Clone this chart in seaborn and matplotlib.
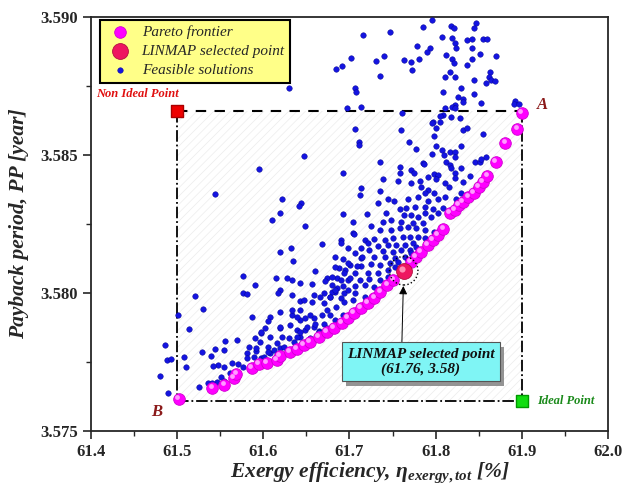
import numpy as np
import pandas as pd
import seaborn as sns
import matplotlib
matplotlib.use("Agg")
import matplotlib.pyplot as plt
import matplotlib.patheffects as pe
import matplotlib.transforms as mtransforms
from matplotlib.patches import Rectangle
from matplotlib.ticker import MultipleLocator

# feasible solutions
feas_x = [61.684, 61.630, 61.647, 61.595, 61.544, 61.622, 61.644, 61.642, 61.619, 61.610, 61.649, 61.668, 61.632, 61.619,
          61.796, 61.785, 61.818, 61.821, 61.847, 61.844, 61.747, 61.716, 61.807, 61.819, 61.836, 61.842, 61.855, 61.860,
          61.823, 61.778, 61.793, 61.824, 61.842, 61.790, 61.812, 61.851, 61.870, 61.702, 61.740, 61.731, 61.763, 61.781,
          61.771, 61.819, 61.821, 61.842, 61.691, 61.773, 61.836, 61.817, 61.863, 61.736, 61.811, 61.822, 61.862, 61.844,
          61.864, 61.869, 61.858, 61.706, 61.708, 61.830, 61.808, 61.845, 61.826, 61.832, 61.832, 61.822, 61.819, 61.853,
          61.892, 61.891, 61.897, 61.697, 61.713, 61.811, 61.823, 61.761, 61.809, 61.805, 61.818, 61.828, 61.797, 61.796,
          61.805, 61.706, 61.760, 61.800, 61.832, 61.836, 61.855, 61.798, 61.711, 61.711, 61.769, 61.800, 61.830, 61.777,
          61.807, 61.817, 61.822, 61.810, 61.823, 61.796, 61.736, 61.785, 61.812, 61.846, 61.851, 61.858, 61.853,
          61.759, 61.759, 61.771, 61.775, 61.787, 61.798, 61.803, 61.817, 61.818, 61.822, 61.829, 61.693, 61.713, 61.712,
          61.739, 61.735, 61.756, 61.771, 61.782, 61.791, 61.800, 61.783, 61.791, 61.798, 61.788, 61.811, 61.815, 61.823,
          61.832, 61.840, 61.829, 61.835, 61.824, 61.811, 61.803, 61.791, 61.780, 61.768, 61.745, 61.752, 61.733, 61.692,
          61.720, 61.742, 61.759, 61.766, 61.776, 61.788, 61.797, 61.809, 61.763, 61.771, 61.780, 61.788, 61.795, 61.803,
          61.748, 61.760, 61.774, 61.785, 61.704, 61.739, 61.725, 61.736, 61.748, 61.759, 61.768, 61.777, 61.788, 61.798,
          61.704, 61.690, 61.718, 61.729, 61.741, 61.750, 61.762, 61.770, 61.780, 61.788, 61.733, 61.745, 61.754, 61.764,
          61.774, 61.713, 61.723, 61.739, 61.750, 61.760, 61.770, 61.777, 61.698, 61.706, 61.683, 61.692, 61.713, 61.729,
          61.741, 61.753, 61.764, 61.771, 61.701, 61.713, 61.725, 61.736, 61.747, 61.756, 61.768, 61.688, 61.695, 61.707,
          61.721, 61.733, 61.745, 61.753, 61.674, 61.686, 61.698, 61.712, 61.723, 61.735, 61.745, 61.680, 61.692, 61.706,
          61.718, 61.729, 61.683, 61.694, 61.707, 61.718, 61.678, 61.690,
          61.705, 61.690, 61.722, 61.635, 61.615, 61.628, 61.633, 61.660, 61.683, 61.698, 61.709, 61.715, 61.590, 61.619,
          61.617, 61.643, 61.657, 61.672, 61.680, 61.690, 61.694, 61.701, 61.633, 61.643, 61.659, 61.671, 61.680, 61.686,
          61.698, 61.587, 61.608, 61.606, 61.619, 61.633, 61.643, 61.649, 61.659, 61.668, 61.631, 61.639, 61.649, 61.659,
          61.671, 61.683, 61.692, 61.674, 61.684, 61.694, 61.704, 61.598, 61.608, 61.596, 61.616, 61.630, 61.643, 61.665,
          61.584, 61.592, 61.606, 61.619, 61.581, 61.589, 61.598, 61.608,
          61.501, 61.521, 61.530, 61.514, 61.486, 61.488, 61.493, 61.508, 61.511, 61.480, 61.489, 61.576, 61.576, 61.581,
          61.556, 61.570, 61.544, 61.555, 61.529, 61.540, 61.548, 61.542, 61.555, 61.564, 61.561, 61.571, 61.581, 61.576,
          61.551, 61.546, 61.541, 61.526, 61.536, 61.554, 61.566, 61.591, 61.598, 61.606, 61.612, 61.624, 61.630, 61.601,
          61.616, 61.636, 61.639, 61.643, 61.651, 61.660, 61.678, 61.654, 61.622, 61.592, 61.602, 61.619, 61.619, 61.633,
          61.643, 61.647, 61.657, 61.671, 61.666, 61.677, 61.683, 61.639, 61.654, 61.665, 61.674]
feas_y = [3.58811, 3.58742, 3.58496, 3.58449, 3.58358, 3.58340, 3.58326, 3.58315, 3.58290, 3.58264, 3.58243, 3.58177, 3.58163, 3.58148,
          3.58988, 3.58963, 3.58967, 3.58959, 3.58977, 3.58959, 3.58945, 3.58934, 3.58927, 3.58923, 3.58916, 3.58920, 3.58920, 3.58920,
          3.58905, 3.58894, 3.58887, 3.58887, 3.58887, 3.58872, 3.58862, 3.58866, 3.58858, 3.58851, 3.58858, 3.58840, 3.58843, 3.58847,
          3.58836, 3.58847, 3.58833, 3.58847, 3.58822, 3.58807, 3.58825, 3.58800, 3.58800, 3.58786, 3.58782, 3.58782, 3.58782, 3.58771,
          3.58771, 3.58767, 3.58760, 3.58742, 3.58728, 3.58742, 3.58728, 3.58720, 3.58710, 3.58702, 3.58691, 3.58681, 3.58673, 3.58688,
          3.58695, 3.58684, 3.58684, 3.58670, 3.58673, 3.58670, 3.58670, 3.58652, 3.58644, 3.58641, 3.58637, 3.58634, 3.58619, 3.58616,
          3.58619, 3.58594, 3.58590, 3.58598, 3.58590, 3.58598, 3.58576, 3.58568, 3.58547, 3.58536, 3.58547, 3.58532, 3.58532, 3.58521,
          3.58518, 3.58510, 3.58510, 3.58500, 3.58492, 3.58503, 3.58474, 3.58471, 3.58474, 3.58474, 3.58474, 3.58492, 3.58485,
          3.58456, 3.58434, 3.58445, 3.58434, 3.58467, 3.58431, 3.58427, 3.58463, 3.58452, 3.58434, 3.58452, 3.58434, 3.58380, 3.58355,
          3.58413, 3.58369, 3.58405, 3.58398, 3.58405, 3.58420, 3.58413, 3.58384, 3.58373, 3.58362, 3.58362, 3.58398, 3.58384, 3.58416,
          3.58402, 3.58424, 3.58362, 3.58355, 3.58340, 3.58348, 3.58340, 3.58333, 3.58348, 3.58340, 3.58340, 3.58333, 3.58326, 3.58286,
          3.58286, 3.58290, 3.58304, 3.58308, 3.58312, 3.58312, 3.58304, 3.58308, 3.58282, 3.58282, 3.58275, 3.58290, 3.58275, 3.58290,
          3.58264, 3.58257, 3.58254, 3.58254, 3.58257, 3.58257, 3.58243, 3.58228, 3.58228, 3.58235, 3.58239, 3.58235, 3.58228, 3.58221,
          3.58217, 3.58192, 3.58192, 3.58196, 3.58192, 3.58199, 3.58203, 3.58203, 3.58203, 3.58199, 3.58170, 3.58174, 3.58174, 3.58174,
          3.58181, 3.58163, 3.58156, 3.58152, 3.58148, 3.58156, 3.58156, 3.58167, 3.58163, 3.58145, 3.58130, 3.58123, 3.58127, 3.58130,
          3.58130, 3.58127, 3.58130, 3.58145, 3.58101, 3.58098, 3.58105, 3.58101, 3.58109, 3.58112, 3.58120, 3.58090, 3.58083, 3.58072,
          3.58072, 3.58072, 3.58083, 3.58094, 3.58054, 3.58054, 3.58047, 3.58047, 3.58051, 3.58047, 3.58058, 3.58029, 3.58025, 3.58025,
          3.58029, 3.58022, 3.58004, 3.58000, 3.58000, 3.57986, 3.57986, 3.57982,
          3.58214, 3.58181, 3.58181, 3.58116, 3.58054, 3.58054, 3.58047, 3.58080, 3.58094, 3.58109, 3.58098, 3.58130, 3.58029, 3.58011,
          3.58000, 3.58036, 3.58033, 3.58043, 3.58058, 3.58047, 3.58072, 3.58054, 3.57993, 3.57971, 3.57993, 3.58000, 3.58004, 3.58018,
          3.58011, 3.57913, 3.57913, 3.57899, 3.57873, 3.57920, 3.57902, 3.57909, 3.57909, 3.57920, 3.57884, 3.57866, 3.57866, 3.57877,
          3.57888, 3.57902, 3.57920, 3.57938, 3.57949, 3.57967, 3.57975, 3.57855, 3.57841, 3.57823, 3.57819, 3.57837, 3.57841, 3.57862,
          3.57804, 3.57790, 3.57804, 3.57801, 3.57783, 3.57768, 3.57764, 3.57782,
          3.57920, 3.57989, 3.57942, 3.57870, 3.57812, 3.57757, 3.57761, 3.57768, 3.57732, 3.57700, 3.57638, 3.58062, 3.58000, 3.57996,
          3.57826, 3.57830, 3.57797, 3.57794, 3.57786, 3.57772, 3.57739, 3.57736, 3.57732, 3.57746, 3.57710, 3.57743, 3.57765, 3.57732,
          3.57696, 3.57678, 3.57674, 3.57660, 3.57674, 3.57681, 3.57710, 3.57837, 3.57859, 3.57786, 3.57794, 3.57804, 3.57794, 3.57768,
          3.57775, 3.57823, 3.57841, 3.57859, 3.57877, 3.57888, 3.57920, 3.57920, 3.57841, 3.57801, 3.57873, 3.57877, 3.57931, 3.57938,
          3.57938, 3.57975, 3.57967, 3.57964, 3.57986, 3.57986, 3.58011, 3.57913, 3.57837, 3.57859, 3.57873]

# Pareto frontier
pareto_x = [61.502, 61.541, 61.555, 61.566, 61.569, 61.587, 61.595, 61.604, 61.616, 61.619, 61.631, 61.639, 61.647, 61.654,
            61.665, 61.674, 61.682, 61.691, 61.698, 61.705, 61.713, 61.721, 61.729, 61.736, 61.744, 61.751, 61.763, 61.771,
            61.777, 61.783, 61.791, 61.797, 61.803, 61.809, 61.817, 61.822, 61.827, 61.832, 61.838, 61.844, 61.850, 61.855,
            61.860, 61.870, 61.881, 61.895, 61.900]
pareto_y = [3.57616, 3.57656, 3.57667, 3.57692, 3.57707, 3.57728, 3.57743, 3.57746, 3.57757, 3.57772, 3.57786, 3.57797, 3.57812, 3.57822,
            3.57841, 3.57859, 3.57873, 3.57891, 3.57909, 3.57928, 3.57946, 3.57964, 3.57982, 3.58004, 3.58029, 3.58047, 3.58080, 3.58112,
            3.58130, 3.58149, 3.58174, 3.58192, 3.58210, 3.58232, 3.58290, 3.58301, 3.58319, 3.58330, 3.58348, 3.58362, 3.58384, 3.58402,
            3.58424, 3.58475, 3.58543, 3.58594, 3.58652]

linmap_x = [61.763]
linmap_y = [3.58080]

ideal = (61.9, 3.5761)
non_ideal = (61.5, 3.5866)

feas = pd.DataFrame({"x": feas_x, "y": feas_y})
pareto = pd.DataFrame({"x": pareto_x, "y": pareto_y})
linmap = pd.DataFrame({"x": linmap_x, "y": linmap_y})

sns.set_style("ticks")
plt.rcParams["font.family"] = ["Liberation Serif", "DejaVu Serif"]
plt.rcParams["mathtext.fontset"] = "custom"
plt.rcParams["mathtext.it"] = "Liberation Serif:italic:bold"
plt.rcParams["mathtext.rm"] = "Liberation Serif:bold"
plt.rcParams["hatch.linewidth"] = 0.5

fig = plt.figure(figsize=(6.22, 4.93), dpi=100)
ax = fig.add_axes([0.146, 0.126, 0.8315, 0.84])

# hatched region between ideal and non-ideal points
ax.add_patch(Rectangle((non_ideal[0], ideal[1]), ideal[0] - non_ideal[0], non_ideal[1] - ideal[1],
                       facecolor="none", edgecolor="#ececec", hatch="////", lw=0, zorder=0))

sns.scatterplot(data=feas, x="x", y="y", ax=ax, s=16, color="#1414e0", edgecolor="#00008b",
                linewidth=0.3, label="Feasible solutions", zorder=3)

# box lines
ax.plot([non_ideal[0], ideal[0]], [non_ideal[1], non_ideal[1]], color="k", ls=(0, (5, 4)), lw=1.5, zorder=2)
ax.plot([non_ideal[0], non_ideal[0]], [non_ideal[1], ideal[1]], color="k", ls="-.", lw=1.3, zorder=2)
ax.plot([non_ideal[0], ideal[0]], [ideal[1], ideal[1]], color="k", ls="-.", lw=1.3, zorder=2)
ax.plot([ideal[0], ideal[0]], [non_ideal[1], ideal[1]], color="k", ls="-.", lw=1.3, zorder=2)

# sphere look: a small highlight drawn slightly up-left of each marker
hl = mtransforms.offset_copy(ax.transData, fig=fig, x=-1.3, y=1.3, units="points")

sns.scatterplot(data=pareto, x="x", y="y", ax=ax, s=70, color="#ff00ff", edgecolor="#d000d0",
                linewidth=0.6, label="Pareto frontier", zorder=4)
ax.scatter(pareto_x, pareto_y, s=12, color="#ff9cff", lw=0, transform=hl, zorder=4)
sns.scatterplot(data=linmap, x="x", y="y", ax=ax, s=130, color="#ee1660", edgecolor="#b0103f",
                linewidth=0.6, label="LINMAP selected point", zorder=5)
ax.scatter(linmap_x, linmap_y, s=20, color="#ff8fb5", lw=0, transform=hl, zorder=5)
ax.scatter(linmap_x, linmap_y, s=420, facecolors="none", edgecolors="k", linestyles=":", linewidths=1.0, zorder=5)

ax.scatter([non_ideal[0]], [non_ideal[1]], marker="s", s=70, color="#ee0000", edgecolor="#aa0000", zorder=6)
ax.scatter([ideal[0]], [ideal[1]], marker="s", s=70, color="#11dd11", edgecolor="#009900", zorder=6)

ax.text(non_ideal[0] + 0.002, non_ideal[1] + 0.0004, "Non Ideal Point", color="#e01010", fontsize=9,
        fontweight="bold", fontstyle="italic", ha="right", va="bottom")
ax.text(ideal[0] + 0.018, ideal[1], "Ideal Point", color="#1a8a1a", fontsize=9,
        fontweight="bold", fontstyle="italic", ha="left", va="center")
ax.text(pareto_x[-1] + 0.018, pareto_y[-1] + 0.0003, "A", color="#8b1a1a", fontsize=12,
        fontweight="bold", fontstyle="italic", ha="left", va="center")
ax.text(pareto_x[0] - 0.032, pareto_y[0] - 0.0002, "B", color="#8b1a1a", fontsize=12,
        fontweight="bold", fontstyle="italic", ha="left", va="top")

ann = ax.annotate("LINMAP selected point\n(61.76, 3.58)", xy=(linmap_x[0], linmap_y[0]),
                  xytext=(61.783, 3.5775), ha="center", va="center", fontsize=11,
                  fontweight="bold", fontstyle="italic", color="#111111",
                  bbox=dict(boxstyle="square,pad=0.35", fc="#7ff5f5", ec="#555555", lw=0.8),
                  arrowprops=dict(arrowstyle="-|>", color="k", lw=0.7, relpos=(0.37, 1.0),
                                  shrinkA=0, shrinkB=11, mutation_scale=12),
                  zorder=7)
ann.get_bbox_patch().set_path_effects([pe.SimplePatchShadow(offset=(3, -3), shadow_rgbFace="#888888", alpha=0.9),
                                       pe.Normal()])

ax.set_xlim(61.4, 62.0)
ax.set_ylim(3.575, 3.590)
ax.xaxis.set_major_locator(MultipleLocator(0.1))
ax.xaxis.set_minor_locator(MultipleLocator(0.05))
ax.yaxis.set_major_locator(MultipleLocator(0.005))
ax.yaxis.set_minor_locator(MultipleLocator(0.0025))
ax.xaxis.set_major_formatter(matplotlib.ticker.FormatStrFormatter("%.1f"))
ax.yaxis.set_major_formatter(matplotlib.ticker.FormatStrFormatter("%.3f"))
ax.tick_params(which="major", direction="out", length=6, width=1.2, labelsize=12)
ax.tick_params(which="minor", direction="out", length=3.5, width=1.0)
for lab in ax.get_xticklabels() + ax.get_yticklabels():
    lab.set_fontweight("bold")
for sp in ax.spines.values():
    sp.set_linewidth(1.3)
    sp.set_visible(True)

ax.set_xlabel("Exergy efficiency, η$_{exergy,tot}$ [%]", fontsize=15.5, fontweight="bold",
              fontstyle="italic", labelpad=2)
ax.xaxis.set_label_coords(0.54, -0.072)
ax.set_ylabel("Payback period, PP [year]", fontsize=15.5, fontweight="bold", fontstyle="italic", labelpad=8)

handles, labels = ax.get_legend_handles_labels()
order = [labels.index("Pareto frontier"), labels.index("LINMAP selected point"), labels.index("Feasible solutions")]
leg = ax.legend([handles[i] for i in order], [labels[i] for i in order], loc="upper left",
                bbox_to_anchor=(0.017, 0.992), borderaxespad=0, frameon=True, fancybox=False,
                facecolor="#ffff88", edgecolor="k", framealpha=1, handletextpad=0.4,
                labelspacing=0.35, borderpad=0.35, prop={"family": "Liberation Serif", "style": "italic", "size": 11})
leg.get_frame().set_linewidth(1.5)

fig.savefig("out.png", dpi=100)
